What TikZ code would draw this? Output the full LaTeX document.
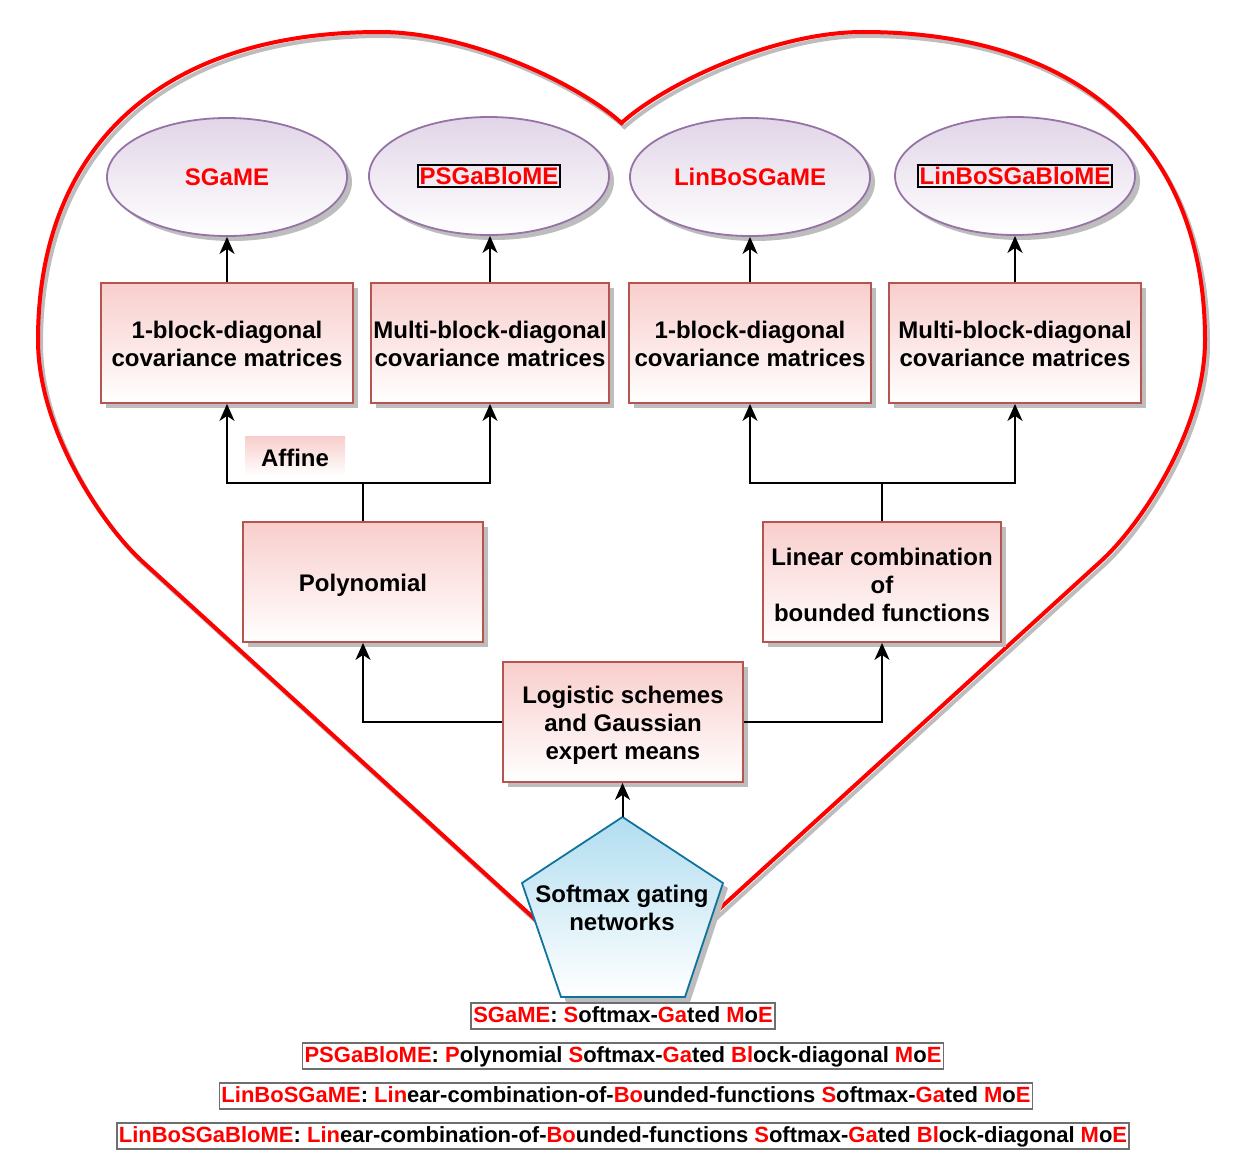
\documentclass[tikz,border=0pt]{standalone}
\usepackage{fontspec}
\setmainfont{Liberation Sans}
\usetikzlibrary{shapes.geometric,arrows.meta,shadows,calc}
\definecolor{boxfill}{HTML}{F8CECC}
\definecolor{boxdraw}{HTML}{B85450}
\definecolor{ellfill}{HTML}{E1D5E7}
\definecolor{elldraw}{HTML}{9673A6}
\definecolor{pentfill}{HTML}{B1DDF0}
\definecolor{pentdraw}{HTML}{10739E}
\definecolor{legdraw}{HTML}{6E6E6E}
\definecolor{shadowgray}{HTML}{BDBDBD}
\newcommand\redt[1]{\textcolor{red}{#1}}
\newcommand\ellt[1]{\makebox[0pt]{#1}}
\newcommand\tstrut{\rule{0pt}{24pt}}
\newcommand\sstrut{\rule{0pt}{20pt}}
\setlength{\fboxrule}{2pt}
\setlength{\fboxsep}{1pt}
\begin{document}
\begin{tikzpicture}[x=1pt,y=-1pt,
  bigfont/.style={font=\bfseries\fontsize{24}{28}\selectfont},
  shd/.style={drop shadow={shadow xshift=5pt,shadow yshift=-5pt,fill=shadowgray,opacity=1}},
  pbox/.style={rectangle,draw=boxdraw,line width=1.8pt,top color=boxfill,bottom color=white,
    minimum height=120,inner sep=0pt,align=center,bigfont,shd},
  ell/.style={ellipse,draw=elldraw,line width=1.8pt,top color=ellfill,bottom color=white,
    minimum width=240,minimum height=118,inner sep=0pt,align=center,bigfont,shd},
  lab/.style={rectangle,top color=boxfill,bottom color=white,minimum width=100,minimum height=40,
    inner sep=0pt,bigfont},
  txt/.style={inner sep=0pt,align=center,bigfont},
  leg/.style={rectangle,draw=legdraw,line width=1.8pt,fill=white,inner xsep=2pt,inner ysep=2pt,
    text height=17pt,text depth=5pt,font=\bfseries\fontsize{22}{26}\selectfont},
  arr/.style={line width=2pt,-{Stealth[length=17pt,width=15pt,inset=5pt]}},
  conn/.style={line width=2pt},
  heartline/.style={draw=red,line width=4pt,line join=miter},
  heartshadow/.style={draw=shadowgray,line width=4pt,line join=miter}
]
\useasboundingbox (0,0) rectangle (1250,1161);

% heart outline (shadow then red line)
\begin{scope}[shift={(3,4)}]
\draw[heartshadow] (621.5,123) .. controls (580,85) and (470,32) .. (380,32)
  .. controls (158,32) and (38,150) .. (38,340)
  .. controls (38,430) and (103,526) .. (143,562) -- (621.5,998) -- (1100,562)
  .. controls (1140,526) and (1205,430) .. (1205,340)
  .. controls (1205,150) and (1085,32) .. (863,32)
  .. controls (773,32) and (663,85) .. (621.5,123) -- cycle;
\end{scope}
\draw[heartline] (621.5,123) .. controls (580,85) and (470,32) .. (380,32)
  .. controls (158,32) and (38,150) .. (38,340)
  .. controls (38,430) and (103,526) .. (143,562) -- (621.5,998) -- (1100,562)
  .. controls (1140,526) and (1205,430) .. (1205,340)
  .. controls (1205,150) and (1085,32) .. (863,32)
  .. controls (773,32) and (663,85) .. (621.5,123) -- cycle;

% ellipses
\node[ell] (e1) at (227,177) {\ellt{\redt{SGaME}}};
\node[ell] (e2) at (489,176) {\ellt{\fbox{\redt{PSGaBloME}}}};
\node[ell] (e3) at (750,177) {\ellt{\redt{LinBoSGaME}}};
\node[ell] (e4) at (1015,176) {\ellt{\fbox{\redt{LinBoSGaBloME}}}};

% covariance boxes
\node[pbox,minimum width=252] (b1) at (227,343) {\sstrut 1-block-diagonal\\covariance matrices};
\node[pbox,minimum width=238] (b2) at (490,343) {\sstrut Multi-block-diagonal\\covariance matrices};
\node[pbox,minimum width=242] (b3) at (750,343) {\sstrut 1-block-diagonal\\covariance matrices};
\node[pbox,minimum width=252] (b4) at (1015,343) {\sstrut Multi-block-diagonal\\covariance matrices};

% middle boxes
\node[pbox,minimum width=240] (poly) at (363,582) {\tstrut Polynomial};
\node[pbox,minimum width=238] (lin) at (882,582) {\tstrut Linear combination\\of\\bounded functions};
\node[pbox,minimum width=240] (logi) at (623,722) {\tstrut Logistic schemes\\and Gaussian\\expert means};
\node[lab] (aff) at (295,456) {\rule{0pt}{22pt}Affine};

% pentagon
\coordinate (ptop) at (622.5,817);
\begin{scope}[shift={(5,5)}]
\fill[shadowgray] (622.5,817) -- (723,883) -- (685,997) -- (561,997) -- (522,883) -- cycle;
\end{scope}
\path[top color=pentfill,bottom color=white,draw=pentdraw,line width=1.8pt,line join=miter]
  (622.5,817) -- (723,883) -- (685,997) -- (561,997) -- (522,883) -- cycle;
\node[txt] (pent) at (622,908) {Softmax gating\\networks};

% connectors
\coordinate (rowA) at (0,483);
\draw[arr] (b1.north) -- (b1.north |- e1.south);
\draw[arr] (b2.north) -- (b2.north |- e2.south);
\draw[arr] (b3.north) -- (b3.north |- e3.south);
\draw[arr] (b4.north) -- (b4.north |- e4.south);
\draw[conn] (poly.north) -- (poly.north |- rowA);
\draw[arr] (poly.north |- rowA) -| (b1.south);
\draw[arr] (poly.north |- rowA) -| (b2.south);
\draw[conn] (lin.north) -- (lin.north |- rowA);
\draw[arr] (lin.north |- rowA) -| (b3.south);
\draw[arr] (lin.north |- rowA) -| (b4.south);
\draw[arr] (logi.west) -| (poly.south);
\draw[arr] (logi.east) -| (lin.south);
\draw[arr] (ptop) -- (ptop |- logi.south);

% legend
\node[leg] (l1) at (623,1016) {\redt{SGaME}: \redt{S}oftmax-\redt{Ga}ted \redt{M}o\redt{E}};
\node[leg] (l2) at (623,1056) {\redt{PSGaBloME}: \redt{P}olynomial \redt{S}oftmax-\redt{Ga}ted \redt{Bl}ock-diagonal \redt{M}o\redt{E}};
\node[leg] (l3) at (626,1096) {\redt{LinBoSGaME}: \redt{Lin}ear-combination-of-\redt{Bo}unded-functions \redt{S}oftmax-\redt{Ga}ted \redt{M}o\redt{E}};
\node[leg] (l4) at (623,1136) {\redt{LinBoSGaBloME}: \redt{Lin}ear-combination-of-\redt{Bo}unded-functions \redt{S}oftmax-\redt{Ga}ted \redt{Bl}ock-diagonal \redt{M}o\redt{E}};
\end{tikzpicture}
\end{document}
